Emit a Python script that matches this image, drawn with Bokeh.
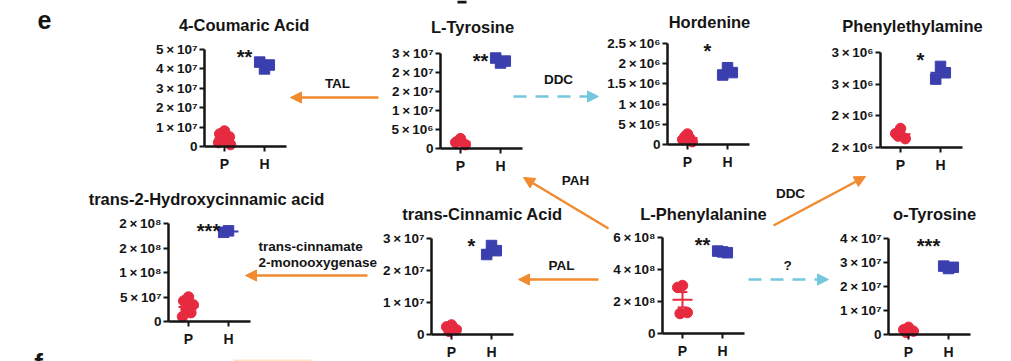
import numpy as np
from bokeh.plotting import figure
from bokeh.models import Range1d, LinearAxis, FixedTicker, Arrow, NormalHead, BoxAnnotation
from bokeh.core.properties import value
from bokeh.embed import file_html
from bokeh.resources import INLINE

# ---------------- data ----------------
groups = ["P", "H"]

coumaric_P = [8.0e6, 6.5e6, 5.0e6, 4.0e6, 3.0e6, 2.0e6, 1.0e6]
coumaric_H = [4.0e7, 4.35e7, 4.2e7]
coumaric_ticks = [0, 1e7, 2e7, 3e7, 4e7, 5e7]
coumaric_labels = ["0", "1×10⁷", "2×10⁷", "3×10⁷", "4×10⁷", "5×10⁷"]

tyrosine_P = [2.6e6, 1.6e6, 1.0e6, 2.0e6]
tyrosine_H = [2.25e7, 2.38e7, 2.3e7]
tyrosine_ticks = [0, 5e6, 1e7, 1.5e7, 2e7, 2.5e7]
tyrosine_labels = ["0", "5×10⁶", "1×10⁷", "2×10⁷", "2×10⁷", "3×10⁷"]

hordenine_P = [2.6e5, 1.2e5, 0.7e5, 2.0e5, 1.5e5]
hordenine_H = [1.9e6, 1.72e6, 1.78e6]
hordenine_ticks = [0, 5e5, 1e6, 1.5e6, 2e6, 2.5e6]
hordenine_labels = ["0", "5×10⁵", "1×10⁶", "1.5×10⁶", "2×10⁶", "2.5×10⁶"]

pea_P = [1.8e6, 1.72e6, 1.64e6, 1.68e6]
pea_H = [2.78e6, 2.58e6, 2.68e6]
pea_ticks = [1.5e6, 2e6, 2.5e6, 3e6]
pea_labels = ["2×10⁶", "2×10⁶", "3×10⁶", "3×10⁶"]

hca_P = [5.0e7, 4.2e7, 3.4e7, 2.5e7, 1.8e7, 1.0e7]
hca_H = [1.85e8, 1.82e8]
hca_ticks = [0, 5e7, 1e8, 1.5e8, 2e8]
hca_labels = ["0", "5×10⁷", "1×10⁸", "2×10⁸", "2×10⁸"]

cinn_P = [3.0e6, 2.4e6, 1.5e6, 1.0e6]
cinn_H = [2.78e7, 2.5e7, 2.62e7]
cinn_ticks = [0, 1e7, 2e7, 3e7]
cinn_labels = ["0", "1×10⁷", "2×10⁷", "3×10⁷"]

phe_P = [3.0e8, 2.88e8, 1.31e8, 1.25e8]
phe_H = [5.1e8, 5.15e8, 5.05e8]
phe_ticks = [0, 2e8, 4e8, 6e8]
phe_labels = ["0", "2×10⁸", "4×10⁸", "6×10⁸"]

otyr_P = [3.0e6, 2.0e6, 1.4e6, 0.9e6]
otyr_H = [2.75e7, 2.85e7, 2.8e7]
otyr_ticks = [0, 1e7, 2e7, 3e7, 4e7]
otyr_labels = ["0", "1×10⁷", "2×10⁷", "3×10⁷", "4×10⁷"]

titles = ["4-Coumaric Acid", "L-Tyrosine", "Hordenine", "Phenylethylamine",
          "trans-2-Hydroxycinnamic acid", "trans-Cinnamic Acid", "L-Phenylalanine", "o-Tyrosine"]
stars = ["**", "**", "*", "*", "***", "*", "**", "***"]

enzymes = ["TAL", "DDC", "PAH", "DDC", "PAL", "?", "trans-cinnamate", "2-monooxygenase"]
panel_labels = ["e", "f"]

# ---------------- layout (pixel positions on the canvas) ----------------
W, H = 1011, 361
X0, X1 = 0, W
Y0, Y1 = H, 0

panels = [
    # title, P, H, ticks, labels, stars, axis_x, y_bottom_px, y_top_px, title_xy
    (titles[0], coumaric_P, coumaric_H, coumaric_ticks, coumaric_labels, stars[0], 204, 146, 49, (244, 24)),
    (titles[1], tyrosine_P, tyrosine_H, tyrosine_ticks, tyrosine_labels, stars[1], 440, 148, 53, (472, 26)),
    (titles[2], hordenine_P, hordenine_H, hordenine_ticks, hordenine_labels, stars[2], 667, 144, 43, (709, 21)),
    (titles[3], pea_P, pea_H, pea_ticks, pea_labels, stars[3], 880, 147, 52, (912, 25)),
    (titles[4], hca_P, hca_H, hca_ticks, hca_labels, stars[4], 168, 321, 223, (206, 198)),
    (titles[5], cinn_P, cinn_H, cinn_ticks, cinn_labels, stars[5], 431, 334, 238, (482, 213)),
    (titles[6], phe_P, phe_H, phe_ticks, phe_labels, stars[6], 662, 333, 237, (703, 213)),
    (titles[7], otyr_P, otyr_H, otyr_ticks, otyr_labels, stars[7], 888, 334, 238, (934, 213)),
]

RED = "#e62a40"
BLUE = "#3b3fae"
ORANGE = "#f28a30"
CYAN = "#74c7dc"
INK = "#151515"
FONT = "Liberation Sans"
SPACING = 40   # px between P and H
JITTER = [0.0, -0.12, 0.12, -0.06, 0.06, -0.15, 0.15]

p = figure(width=W, height=H, x_range=Range1d(X0, X1), y_range=Range1d(Y0, Y1),
           output_backend="svg", toolbar_location=None, min_border=0,
           x_axis_type=None, y_axis_type=None)
p.outline_line_color = None
p.grid.visible = False
p.background_fill_color = "white"
p.border_fill_color = "white"


def lin_range(v_a, px_a, v_b, px_b, px_start, px_end):
    f = lambda px: v_a + (px - px_a) * (v_b - v_a) / (px_b - px_a)
    return Range1d(f(px_start), f(px_end))


def tick_text(s):
    return s.replace("×", "\u2009×\u2009")


for i, (title, pv, hv, ticks, labels, star, ax_x, yb, yt, txy) in enumerate(panels):
    xr, yr = f"x{i}", f"y{i}"
    p.extra_x_ranges[xr] = lin_range(0.5, ax_x, 1.5, ax_x + SPACING, X0, X1)
    p.extra_y_ranges[yr] = lin_range(ticks[0], yb, ticks[-1], yt, Y0, Y1)

    yax = LinearAxis(x_range_name=xr, y_range_name=yr, fixed_location=0.5,
                     bounds=(ticks[0], ticks[-1]),
                     ticker=FixedTicker(ticks=ticks),
                     major_label_overrides={t: tick_text(l) for t, l in zip(ticks, labels)})
    xax = LinearAxis(x_range_name=xr, y_range_name=yr, fixed_location=ticks[0],
                     bounds=(0.5, 2.55), ticker=FixedTicker(ticks=[1, 2]),
                     major_label_overrides={1: groups[0], 2: groups[1]})
    for ax in (yax, xax):
        ax.axis_line_width = 2.5
        ax.axis_line_color = INK
        ax.major_tick_line_width = 2
        ax.major_tick_line_color = INK
        ax.major_tick_in = 0
        ax.major_tick_out = 5
        ax.minor_tick_line_color = None
        ax.major_label_text_font = FONT
        ax.major_label_text_font_style = "bold"
        ax.major_label_text_font_size = "13.5px"
        ax.major_label_text_color = INK
        ax.major_label_standoff = 2
    xax.major_label_standoff = 4
    xax.major_label_text_font_size = "14px"
    p.add_layout(yax, "left")
    p.add_layout(xax, "below")

    for g, vals, col, mk in ((1, pv, RED, "circle"), (2, hv, BLUE, "square")):
        xs = [g + JITTER[k % len(JITTER)] for k in range(len(vals))]
        p.scatter(xs, vals, marker=mk, size=10.5, fill_color=col, line_color=col,
                  x_range_name=xr, y_range_name=yr)
        m = float(np.mean(vals))
        se = float(np.std(vals, ddof=1) / np.sqrt(len(vals)))
        p.segment([g - 0.25, g, g - 0.12, g - 0.12], [m, m - se, m - se, m + se],
                  [g + 0.25, g, g + 0.12, g + 0.12], [m, m + se, m - se, m + se],
                  line_color=col, line_width=2, x_range_name=xr, y_range_name=yr)

    p.text([1.5], [ticks[-1]], text=[star], text_font=value(FONT), text_font_style="bold",
           text_font_size="20px", text_align="center", text_baseline="middle", y_offset=7,
           text_color=INK, x_range_name=xr, y_range_name=yr)
    p.text([txy[0]], [txy[1]], text=[title], text_font=value(FONT), text_font_style="bold",
           text_font_size="16.5px", text_align="center", text_baseline="middle", text_color=INK)

# ---------------- pathway arrows ----------------
arrows = [
    # x_start, y_start, x_end, y_end, color, dashed
    (378, 97, 290, 97, ORANGE, False),
    (513, 96, 598, 96, CYAN, True),
    (608, 228, 523, 177, ORANGE, False),
    (773, 225, 865, 176, ORANGE, False),
    (598, 279, 518, 279, ORANGE, False),
    (748, 279, 828, 279, CYAN, True),
    (367, 275, 245, 275, ORANGE, False),
]
for xs_, ys_, xe_, ye_, col, dashed in arrows:
    p.add_layout(Arrow(x_start=xs_, y_start=ys_, x_end=xe_, y_end=ye_,
                       line_color=col, line_width=2.5,
                       line_dash="13 9" if dashed else "solid",
                       end=NormalHead(size=11, fill_color=col, line_color=col)))

enz_pos = [(337, 83, "center"), (558, 79, "center"), (575, 180, "center"), (790, 193, "center"),
           (561, 265, "center"), (787, 265, "center"), (258, 246, "left"), (258, 262, "left")]
for t, (x, y, al) in zip(enzymes, enz_pos):
    p.text([x], [y], text=[t], text_font=value(FONT), text_font_style="bold",
           text_font_size="13.5px", text_align=al, text_baseline="middle", text_color=INK)

# panel letters (the "f" of the next panel is cut by the bottom edge, as in the source)
p.text([44], [19], text=[panel_labels[0]], text_font=value(FONT), text_font_style="bold",
       text_font_size="25px", text_align="center", text_baseline="alphabetic", text_color=INK)
p.text([38], [347], text=[panel_labels[1]], text_font=value(FONT), text_font_style="bold",
       text_font_size="26px", text_align="center", text_baseline="top", text_color=INK)

# slivers of neighbouring panels visible at the edges of the source crop
p.add_layout(BoxAnnotation(left=233, right=312, top=359, bottom=361,
                           fill_color="#fde6c6", fill_alpha=1, line_color=None))
p.add_layout(BoxAnnotation(left=457, right=466, top=0, bottom=3,
                           fill_color=INK, fill_alpha=1, line_color=None))

open("out.html", "w").write(file_html(p, INLINE))
